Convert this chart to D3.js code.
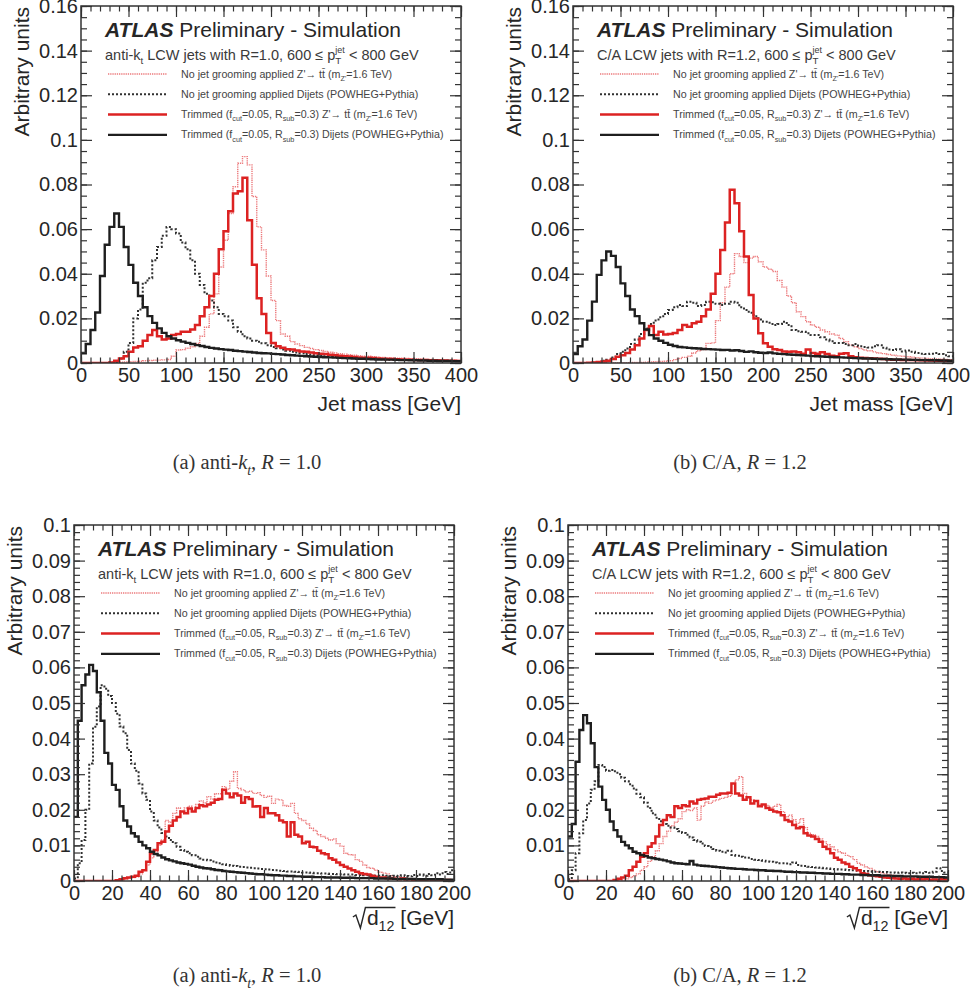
<!DOCTYPE html>
<meta charset="utf-8">
<style>
    body { margin: 0; background: #fff; }
    svg text { font-family: "Liberation Sans", Arial, Helvetica, sans-serif; fill: #262626; white-space: pre; }
    .caption { font-family: "Liberation Serif", "Times New Roman", serif; }
    .tick line { stroke: #333; stroke-width: 1.2px; }
    .tick text { font-size: 20px; fill: #262626; }
</style>
<script src="https://d3js.org/d3.v7.min.js"></script>
<svg id="chart" width="973" height="996"></svg>
<script>

    // ---- tick labels ----
    var massXLabels = ["0", "50", "100", "150", "200", "250", "300", "350", "400"];
    var massYLabels = ["0", "0.02", "0.04", "0.06", "0.08", "0.1", "0.12", "0.14", "0.16"];
    var d12XLabels = ["0", "20", "40", "60", "80", "100", "120", "140", "160", "180", "200"];
    var d12YLabels = ["0", "0.01", "0.02", "0.03", "0.04", "0.05", "0.06", "0.07", "0.08", "0.09", "0.1"];

    var massBinWidth = 5;   // GeV, 80 bins from 0 to 400
    var d12BinWidth = 2;    // GeV, 100 bins from 0 to 200

    // ---- anti-kt R=1.0, jet mass ----
    var akMassUngroomedZp = [
        0, 0, 0, 0, 0, 0, .0002, .0003, .0004, .0005,
        .0006, .0007, .0008, .001, .0011, .0012, .0013, .0014, .0016, .003,
        .0058, .006, .0066, .0073, .0088, .012, .016, .022, .031, .043,
        .055, .067, .079, .0895, .0925, .0888, .0746, .061, .0507, .039,
        .028, .019, .013, .012, .0096, .0085, .0078, .007, .0065, .006,
        .0056, .0052, .0048, .0045, .0042, .004, .0037, .0035, .0033, .0031,
        .003, .0028, .0027, .0025, .0024, .0023, .0022, .0021, .002, .0019,
        .0018, .0017, .0016, .0016, .0015, .0014, .0013, .0013, .0012, .0011];
    var akMassUngroomedQCD = [
        0, 0, 0, 0, 0, 0, .0002, .0005, .002, .005,
        .009, .020, .024, .036, .038, .046, .052, .057, .061, .060,
        .058, .054, .051, .046, .040, .035, .031, .028, .025, .022,
        .021, .019, .016, .014, .012, .011, .010, .0095, .0088, .008,
        .0072, .0066, .006, .0055, .005, .0047, .0044, .004, .0038, .0035,
        .0033, .003, .0029, .0027, .0026, .0024, .0023, .0022, .0021, .002,
        .0019, .0018, .0018, .0017, .0016, .0015, .0015, .0014, .0014, .0013,
        .0013, .0012, .0012, .0011, .0011, .001, .001, .001, .0009, .0009];
    var akMassTrimmedZp = [
        0, 0, 0, 0, 0, 0, .0002, .001, .002, .003,
        .005, .007, .0075, .010, .0125, .0148, .012, .0105, .011, .0125,
        .013, .014, .014, .015, .017, .021, .025, .030, .040, .051,
        .059, .068, .076, .077, .083, .064, .044, .029, .022, .0135,
        .009, .0075, .0068, .0062, .006, .0056, .0052, .005, .0047, .0044,
        .0042, .004, .0037, .0035, .0033, .003, .0029, .0027, .0025, .0024,
        .0023, .0022, .002, .0019, .0018, .0018, .0017, .0016, .0015, .0015,
        .0014, .0013, .0013, .0012, .0012, .0011, .0011, .001, .001, .0009];
    var akMassTrimmedQCD = [
        .0043, .0085, .0148, .0226, .039, .053, .061, .067, .061, .052,
        .044, .036, .030, .025, .021, .018, .0155, .0135, .012, .011,
        .0102, .0096, .009, .0085, .008, .0076, .0072, .0068, .0065, .0062,
        .006, .0058, .0055, .0053, .0051, .0049, .0047, .0045, .0044, .0043,
        .0041, .004, .0038, .0036, .0035, .0033, .0032, .003, .0029, .0028,
        .0027, .0026, .0025, .0024, .0023, .0022, .0021, .002, .0019, .0019,
        .0018, .0017, .0016, .0016, .0015, .0015, .0014, .0013, .0013, .0012,
        .0012, .0011, .0011, .001, .001, .0009, .0009, .0009, .0008, .0008];

    // ---- C/A R=1.2, jet mass ----
    var caMassUngroomedZp = [
        0, 0, 0, 0, 0, 0, 0, 0, 0, 0,
        .0001, .0001, .0002, .0002, .0003, .0004, .0005, .0006, .0007, .0008,
        .001, .0015, .002, .0025, .003, .0045, .0055, .006, .0088, .009,
        .019, .027, .034, .040, .049, .0477, .045, .047, .0477, .0454,
        .043, .042, .041, .037, .034, .030, .027, .023, .0208, .0185,
        .017, .016, .0148, .014, .013, .0125, .011, .0095, .008, .0073,
        .0065, .0058, .0055, .005, .0045, .0042, .0038, .0035, .0032, .003,
        .0028, .0026, .0024, .0022, .002, .0019, .0018, .0017, .0016, .0015];
    var caMassUngroomedQCD = [
        0, 0, 0, 0, .0002, .0005, .001, .0015, .0025, .004,
        .005, .0065, .0085, .0105, .013, .0155, .0175, .019, .0205, .022,
        .0238, .025, .026, .0255, .0275, .027, .0255, .026, .0275, .0272,
        .0265, .026, .0265, .0275, .027, .025, .0238, .0225, .021, .0195,
        .0185, .018, .017, .0175, .0185, .017, .0148, .0142, .014, .0133,
        .0125, .0125, .0115, .0105, .0098, .009, .009, .0085, .008, .0085,
        .0075, .0072, .007, .0075, .008, .0068, .006, .0058, .0062, .0052,
        .0056, .005, .0045, .0042, .004, .0042, .0045, .004, .0035, .003];
    var caMassTrimmedZp = [
        0, 0, 0, .0001, .0002, .0004, .0007, .001, .0018, .0028,
        .0035, .0045, .006, .008, .011, .0148, .0166, .0125, .014, .0128,
        .013, .0135, .0148, .017, .0162, .0178, .0185, .021, .024, .031,
        .040, .0507, .063, .0776, .0716, .059, .0477, .0305, .020, .0133,
        .0088, .0073, .0062, .0058, .0052, .005, .0051, .0048, .0042, .0061,
        .0045, .0042, .0048, .004, .0033, .003, .0042, .0044, .003, .0026,
        .0024, .0022, .0021, .002, .0019, .0018, .0016, .0015, .0015, .0014,
        .0013, .0013, .0012, .0012, .0011, .0011, .001, .001, .0009, .0009];
    var caMassTrimmedQCD = [
        .004, .0075, .0105, .019, .0275, .0395, .046, .050, .048, .043,
        .0357, .030, .024, .021, .0178, .015, .0125, .011, .010, .009,
        .0082, .0076, .0072, .007, .0068, .0066, .0065, .0063, .0062, .0061,
        .006, .0058, .0059, .0056, .0057, .0054, .005, .0052, .0048, .0046,
        .0045, .0047, .0043, .0041, .004, .0038, .0037, .0036, .0034, .0033,
        .0031, .003, .0029, .0028, .0027, .0026, .0025, .0024, .0023, .0022,
        .0021, .002, .002, .0019, .0018, .0018, .0017, .0016, .0016, .0015,
        .0015, .0014, .0014, .0013, .0013, .0012, .0012, .0011, .0011, .001];

    // ---- anti-kt R=1.0, sqrt(d12) ----
    var akD12UngroomedZp = [
        0, 0, 0, 0, 0, 0, 0, 0, 0, 0,
        0, .0002, .0004, .0006, .0008, .001, .0012, .002, .003, .0045,
        .0065, .0082, .010, .0115, .017, .0165, .019, .0205, .0195, .0205,
        .021, .020, .0215, .0225, .022, .0237, .023, .0245, .0245, .0265,
        .0258, .028, .0307, .026, .0256, .025, .0252, .0246, .0248, .024,
        .0235, .0238, .0218, .023, .0228, .0212, .021, .0218, .019, .0175,
        .017, .016, .0148, .0142, .013, .0125, .012, .0115, .0118, .0105,
        .0098, .0078, .0074, .0073, .006, .0055, .0045, .0038, .0036, .003,
        .0025, .0022, .002, .0015, .0012, .0012, .001, .0009, .0007, .0006,
        .0006, .0005, .0005, .0004, .0004, .0003, .0003, .0003, .0002, .0002];
    var akD12UngroomedQCD = [
        .0007, .005, .0115, .020, .033, .0433, .049, .055, .054, .052,
        .050, .047, .0434, .0415, .0368, .033, .031, .0274, .0246, .0228,
        .0195, .017, .015, .0135, .0125, .0115, .0106, .0096, .0087, .0082,
        .0078, .0072, .0068, .0063, .006, .0058, .0055, .0052, .005, .0047,
        .0045, .0043, .0042, .004, .0039, .0038, .0037, .0036, .0035, .0034,
        .0033, .0032, .0031, .003, .0029, .0028, .0027, .0027, .0026, .0025,
        .0024, .0024, .0023, .0022, .0022, .0021, .0021, .002, .002, .0019,
        .0019, .0018, .0018, .0018, .0017, .0017, .0016, .0016, .0016, .0015,
        .0015, .0016, .0015, .0014, .0015, .0014, .0016, .0014, .0013, .0017,
        .0014, .0018, .0015, .002, .0016, .0022, .0018, .0025, .002, .003];
    var akD12TrimmedZp = [
        0, 0, 0, 0, 0, 0, 0, 0, 0, 0,
        0, .0002, .0005, .0008, .001, .0012, .0015, .0026, .003, .0054,
        .0078, .0087, .0106, .011, .0139, .0155, .017, .018, .0195, .019,
        .0204, .0195, .0205, .0213, .021, .0215, .022, .0228, .023, .0256,
        .0246, .0235, .0246, .024, .022, .0235, .023, .0209, .021, .018,
        .0205, .019, .019, .0185, .017, .0165, .0125, .0165, .013, .0125,
        .0106, .011, .0096, .0095, .0085, .0078, .0075, .0064, .006, .0052,
        .0045, .004, .0035, .003, .0026, .0022, .002, .0018, .0015, .0012,
        .001, .001, .0008, .0007, .0006, .0005, .0007, .0004, .0005, .0003,
        .0004, .0003, .0003, .0005, .0003, .0002, .0003, .0002, .0003, .0002];
    var akD12TrimmedQCD = [
        .018, .045, .055, .058, .0607, .059, .053, .045, .036, .033,
        .027, .0256, .021, .017, .0153, .0134, .0125, .011, .010, .0092,
        .0082, .0076, .0072, .0066, .0061, .0058, .0055, .0052, .005, .0048,
        .0046, .0043, .004, .0038, .0036, .0035, .0033, .0031, .003, .0028,
        .0027, .0026, .0025, .0024, .0023, .0022, .0021, .002, .0019, .0019,
        .0018, .0017, .0016, .0016, .0015, .0015, .0014, .0014, .0013, .0013,
        .0012, .0012, .0012, .0011, .0011, .0011, .001, .001, .001, .001,
        .0009, .0009, .0009, .0009, .0008, .0008, .0008, .0008, .0008, .0007,
        .0007, .0007, .0007, .0007, .0006, .0006, .0006, .0006, .0006, .0006,
        .0005, .0005, .0005, .0005, .0005, .0005, .0005, .0004, .0004, .0004];

    // ---- C/A R=1.2, sqrt(d12) ----
    var caD12UngroomedZp = [
        0, 0, 0, 0, 0, 0, 0, 0, 0, 0,
        0, 0, 0, 0, .0003, .0006, .001, .0015, .002, .003,
        .004, .0055, .0068, .0085, .0105, .0125, .014, .0155, .0165, .0175,
        .0195, .020, .0198, .0205, .0171, .021, .0222, .0218, .0225, .0228,
        .0232, .0235, .0238, .0245, .0284, .0293, .0246, .0235, .0228, .0225,
        .0215, .0209, .0212, .0205, .021, .0215, .0195, .018, .0185, .0172,
        .0162, .0175, .015, .0134, .013, .0125, .0118, .011, .0102, .0096,
        .0087, .0082, .0078, .0072, .0068, .006, .005, .0045, .004, .0035,
        .003, .0026, .0023, .002, .0018, .0016, .0014, .0012, .0011, .001,
        .0009, .0008, .0008, .0007, .0006, .0006, .0005, .0005, .0004, .0004];
    var caD12UngroomedQCD = [
        .0005, .003, .0078, .0134, .0171, .0218, .0256, .028, .0326, .032,
        .031, .0312, .0308, .030, .029, .028, .0272, .026, .0245, .0235,
        .022, .0205, .019, .0178, .0168, .016, .0155, .015, .0146, .014,
        .0135, .013, .0122, .0115, .011, .0105, .0098, .0095, .009, .0085,
        .0082, .008, .0085, .0073, .0071, .0068, .0066, .0065, .0062, .006,
        .0059, .0057, .0055, .0054, .0052, .005, .005, .0049, .0047, .0052,
        .0045, .0043, .0042, .004, .0039, .0038, .0037, .0036, .0035, .0034,
        .0033, .0032, .0032, .0031, .003, .003, .0029, .0028, .0028, .0027,
        .0026, .0026, .0025, .0025, .0024, .0024, .0023, .0024, .0023, .0022,
        .0023, .0022, .0024, .0022, .0025, .0023, .0026, .0036, .0028, .0024];
    var caD12TrimmedZp = [
        0, 0, 0, 0, 0, 0, 0, 0, 0, 0,
        0, 0, .0003, .0006, .001, .0015, .003, .004, .0054, .0068,
        .0078, .0096, .0106, .0125, .0157, .0171, .0185, .018, .021, .0205,
        .0213, .021, .0223, .0218, .0228, .023, .0232, .0237, .0237, .0242,
        .0246, .0246, .0248, .0274, .0246, .024, .0228, .0235, .0218, .0225,
        .021, .0215, .0205, .02, .0195, .0193, .0185, .0171, .0167, .0157,
        .0148, .0152, .0134, .0128, .0125, .0118, .011, .0096, .009, .0078,
        .0065, .006, .0052, .0048, .004, .0036, .003, .0022, .002, .0016,
        .0015, .0013, .0012, .001, .0009, .0008, .0007, .0006, .0007, .0005,
        .0006, .0004, .0005, .0004, .0006, .0003, .0004, .0003, .0005, .0004];
    var caD12TrimmedQCD = [
        .0125, .016, .0335, .0424, .0466, .0443, .0387, .032, .0265, .0228,
        .020, .0167, .0143, .0125, .011, .010, .0092, .0082, .0078, .0073,
        .007, .0066, .0064, .0062, .006, .0058, .0055, .0052, .005, .0049,
        .0048, .0047, .0056, .0046, .0044, .0043, .0042, .0041, .004, .0039,
        .0038, .0037, .0036, .0035, .0034, .0034, .0033, .0032, .0032, .0031,
        .003, .003, .0029, .0029, .0028, .0028, .0027, .0026, .0026, .0025,
        .0025, .0024, .0024, .0023, .0023, .0022, .0022, .0021, .0021, .002,
        .002, .002, .0019, .0019, .0018, .0018, .0018, .0017, .0017, .0016,
        .0016, .0016, .0015, .0015, .0015, .0014, .0014, .0014, .0013, .0013,
        .0013, .0013, .0012, .0012, .0012, .0012, .0011, .0011, .0011, .001];

    [["akMassUngroomedZp", akMassUngroomedZp, 80], ["akMassUngroomedQCD", akMassUngroomedQCD, 80],
     ["akMassTrimmedZp", akMassTrimmedZp, 80], ["akMassTrimmedQCD", akMassTrimmedQCD, 80],
     ["caMassUngroomedZp", caMassUngroomedZp, 80], ["caMassUngroomedQCD", caMassUngroomedQCD, 80],
     ["caMassTrimmedZp", caMassTrimmedZp, 80], ["caMassTrimmedQCD", caMassTrimmedQCD, 80],
     ["akD12UngroomedZp", akD12UngroomedZp, 100], ["akD12UngroomedQCD", akD12UngroomedQCD, 100],
     ["akD12TrimmedZp", akD12TrimmedZp, 100], ["akD12TrimmedQCD", akD12TrimmedQCD, 100],
     ["caD12UngroomedZp", caD12UngroomedZp, 100], ["caD12UngroomedQCD", caD12UngroomedQCD, 100],
     ["caD12TrimmedZp", caD12TrimmedZp, 100], ["caD12TrimmedQCD", caD12TrimmedQCD, 100]
    ].forEach(function(c) {
        if (c[1].length !== c[2]) throw new Error(c[0] + " has " + c[1].length + " bins");
    });

    // line styles, in legend order
    var lineStyles = [
        {stroke: "#ec7a7c", width: 1.4, dash: "1.3,0.9"},   // no grooming Z'
        {stroke: "#303030", width: 2, dash: "2,2"},         // no grooming dijets
        {stroke: "#dc2222", width: 2.5, dash: null},        // trimmed Z'
        {stroke: "#1e1e1e", width: 2.4, dash: null}         // trimmed dijets
    ];

    var legendTexts = [
        [["No jet grooming applied Z'\u2192 tt\u0304 (m"], ["Z'", "sub"], ["=1.6 TeV)"]],
        [["No jet grooming applied Dijets (POWHEG+Pythia)"]],
        [["Trimmed (f"], ["cut", "sub"], ["=0.05, R"], ["sub", "sub"], ["=0.3) Z'\u2192 tt\u0304 (m"], ["Z'", "sub"], ["=1.6 TeV)"]],
        [["Trimmed (f"], ["cut", "sub"], ["=0.05, R"], ["sub", "sub"], ["=0.3) Dijets (POWHEG+Pythia)"]]
    ];

    var svg = d3.select("#chart");

    // text with sub/superscripts as tspans
    function rich(sel, parts, size) {
        var shift = 0;
        parts.forEach(function(p) {
            var target = 0, fs = size;
            if (p[1] === "sub" || p[1] === "isub") { target = size * 0.3; fs = size * 0.68; }
            if (p[1] === "sup") { target = -size * 0.45; fs = size * 0.62; }
            var t = sel.append("tspan")
                .attr("dy", (target - shift).toFixed(2))
                .style("font-size", fs + "px")
                .text(p[0]);
            if (p[2]) t.attr("dx", p[2]);
            if (p[1] === "i" || p[1] === "isub") t.style("font-style", "italic");
            shift = target;
        });
    }

    function drawPanel(p) {
        var x = d3.scaleLinear().domain([0, p.xMax]).range([p.left, p.right]);
        var y = d3.scaleLinear().domain([0, p.yMax]).range([p.bottom, p.top]);
        var g = svg.append("g");

        var clipId = "clip-" + p.id;
        svg.append("clipPath").attr("id", clipId)
            .append("rect")
            .attr("x", p.left).attr("y", p.top)
            .attr("width", p.right - p.left).attr("height", p.bottom - p.top);

        var line = d3.line()
            .curve(d3.curveStepAfter)
            .x(function(d) { return x(d[0]); })
            .y(function(d) { return y(d[1]); });

        p.series.forEach(function(values, k) {
            var pts = values.map(function(v, i) { return [i * p.binW, v]; });
            pts.push([p.xMax, values[values.length - 1]]);
            var st = lineStyles[k];
            g.append("path")
                .attr("clip-path", "url(#" + clipId + ")")
                .attr("d", line(pts))
                .attr("fill", "none")
                .attr("stroke", st.stroke)
                .attr("stroke-width", st.width)
                .attr("stroke-dasharray", st.dash);
        });

        var xMajor = p.xLabels.map(Number);
        var yMajor = p.yLabels.map(Number);
        var xMinor = d3.range(0, p.xMax + 1e-9, p.xMinor);
        var yMinor = d3.range(0, p.yMax + 1e-9, p.yMinor);

        // bottom with labels
        g.append("g").attr("transform", "translate(0," + p.bottom + ")")
            .call(d3.axisBottom(x).tickValues(xMajor).tickSizeInner(-11).tickSizeOuter(0).tickPadding(5)
                .tickFormat(function(d, i) { return p.xLabels[i]; }));
        g.append("g").attr("transform", "translate(0," + p.bottom + ")")
            .call(d3.axisBottom(x).tickValues(xMinor).tickSizeInner(-5.5).tickSizeOuter(0).tickFormat(""));
        // left with labels
        g.append("g").attr("transform", "translate(" + p.left + ",0)")
            .call(d3.axisLeft(y).tickValues(yMajor).tickSizeInner(-11).tickSizeOuter(0).tickPadding(3)
                .tickFormat(function(d, i) { return p.yLabels[i]; }));
        g.append("g").attr("transform", "translate(" + p.left + ",0)")
            .call(d3.axisLeft(y).tickValues(yMinor).tickSizeInner(-6).tickSizeOuter(0).tickFormat(""));
        // top and right mirrors
        g.append("g").attr("transform", "translate(0," + p.top + ")")
            .call(d3.axisTop(x).tickValues(xMajor).tickSizeInner(-11).tickSizeOuter(0).tickFormat(""));
        g.append("g").attr("transform", "translate(0," + p.top + ")")
            .call(d3.axisTop(x).tickValues(xMinor).tickSizeInner(-5.5).tickSizeOuter(0).tickFormat(""));
        g.append("g").attr("transform", "translate(" + p.right + ",0)")
            .call(d3.axisRight(y).tickValues(yMajor).tickSizeInner(-11).tickSizeOuter(0).tickFormat(""));
        g.append("g").attr("transform", "translate(" + p.right + ",0)")
            .call(d3.axisRight(y).tickValues(yMinor).tickSizeInner(-6).tickSizeOuter(0).tickFormat(""));
        g.selectAll(".domain").remove();

        g.append("rect")
            .attr("x", p.left).attr("y", p.top)
            .attr("width", p.right - p.left).attr("height", p.bottom - p.top)
            .attr("fill", "none").attr("stroke", "#333").attr("stroke-width", 1.5);

        // y title
        g.append("text")
            .attr("transform", "translate(" + (p.left - 52) + "," + (p.top + 1) + ") rotate(-90)")
            .attr("text-anchor", "end")
            .style("font-size", "21px")
            .text("Arbitrary units");

        // x title
        if (p.kind === "mass") {
            g.append("text")
                .attr("x", p.right).attr("y", p.bottom + 48)
                .attr("text-anchor", "end")
                .style("font-size", "21px")
                .text("Jet mass [GeV]");
        } else {
            var yb = p.bottom + 44;
            var t = g.append("text")
                .attr("x", p.right).attr("y", yb)
                .attr("text-anchor", "end")
                .style("font-size", "21px");
            rich(t, [["d"], ["12", "sub"], [" [GeV]"]], 21);
            var n = t.node();
            var x0 = n.getStartPositionOfChar(0).x;
            var x1 = n.getEndPositionOfChar(2).x;
            g.append("path")
                .attr("d", "M" + (x0 - 14) + "," + (yb - 8) + "L" + (x0 - 11) + "," + (yb - 10) +
                    "L" + (x0 - 6.5) + "," + (yb + 3) + "L" + (x0 - 1.5) + "," + (yb - 17.5) +
                    "L" + (x1 + 1) + "," + (yb - 17.5))
                .attr("fill", "none").attr("stroke", "#262626").attr("stroke-width", 1.4);
        }

        // ATLAS label
        var at = g.append("text")
            .attr("x", p.left + 24).attr("y", p.top + 31)
            .style("font-size", "21px");
        at.append("tspan").style("font-weight", "bold").style("font-style", "italic").text("ATLAS");
        at.append("tspan").text(" Preliminary - Simulation");

        var jl = g.append("text")
            .attr("x", p.left + 24).attr("y", p.top + 54)
            .style("fill", "#3a3a3a");
        rich(jl, p.jetText, 14.5);

        // legend
        legendTexts.forEach(function(parts, i) {
            var ly = p.top + 68 + i * 20.3;
            var st = lineStyles[i];
            g.append("line")
                .attr("x1", p.left + 27).attr("x2", p.left + 86)
                .attr("y1", ly).attr("y2", ly)
                .attr("stroke", st.stroke)
                .attr("stroke-width", st.width)
                .attr("stroke-dasharray", st.dash);
            var lt = g.append("text")
                .attr("x", p.left + 100).attr("y", ly + 3.5)
                .style("fill", "#444");
            rich(lt, parts, 10.7);
        });
    }

    var akJet = [["anti-k"], ["t", "sub"], [" LCW jets with R=1.0, 600 \u2264 p"], ["T", "sub"], ["jet", "sup", -6], [" < 800 GeV"]];
    var caJet = [["C/A LCW jets with R=1.2, 600 \u2264 p"], ["T", "sub"], ["jet", "sup", -6], [" < 800 GeV"]];

    var panels = [
        {id: "akm", kind: "mass", left: 81, right: 461, top: 6, bottom: 363, xMax: 400, yMax: 0.16,
         binW: massBinWidth, xMinor: 10, yMinor: 0.005, xLabels: massXLabels, yLabels: massYLabels, jetText: akJet,
         series: [akMassUngroomedZp, akMassUngroomedQCD, akMassTrimmedZp, akMassTrimmedQCD]},
        {id: "cam", kind: "mass", left: 573, right: 953, top: 6, bottom: 363, xMax: 400, yMax: 0.16,
         binW: massBinWidth, xMinor: 10, yMinor: 0.005, xLabels: massXLabels, yLabels: massYLabels, jetText: caJet,
         series: [caMassUngroomedZp, caMassUngroomedQCD, caMassTrimmedZp, caMassTrimmedQCD]},
        {id: "akd", kind: "d12", left: 74, right: 454, top: 525, bottom: 881, xMax: 200, yMax: 0.1,
         binW: d12BinWidth, xMinor: 5, yMinor: 0.002, xLabels: d12XLabels, yLabels: d12YLabels, jetText: akJet,
         series: [akD12UngroomedZp, akD12UngroomedQCD, akD12TrimmedZp, akD12TrimmedQCD]},
        {id: "cad", kind: "d12", left: 568, right: 948, top: 525, bottom: 881, xMax: 200, yMax: 0.1,
         binW: d12BinWidth, xMinor: 5, yMinor: 0.002, xLabels: d12XLabels, yLabels: d12YLabels, jetText: caJet,
         series: [caD12UngroomedZp, caD12UngroomedQCD, caD12TrimmedZp, caD12TrimmedQCD]}
    ];

    panels.forEach(drawPanel);

    // sub-figure captions
    var captions = [
        {x: 247, y: 469, parts: [["(a) anti-"], ["k", "i"], ["t", "isub"], [", "], ["R", "i"], [" = 1.0"]]},
        {x: 740, y: 469, parts: [["(b) C/A, "], ["R", "i"], [" = 1.2"]]},
        {x: 247, y: 982, parts: [["(a) anti-"], ["k", "i"], ["t", "isub"], [", "], ["R", "i"], [" = 1.0"]]},
        {x: 740, y: 982, parts: [["(b) C/A, "], ["R", "i"], [" = 1.2"]]}
    ];
    captions.forEach(function(c) {
        var t = svg.append("text")
            .attr("class", "caption")
            .attr("x", c.x).attr("y", c.y)
            .attr("text-anchor", "middle")
            .style("fill", "#333");
        rich(t, c.parts, 20.5);
    });

</script>
